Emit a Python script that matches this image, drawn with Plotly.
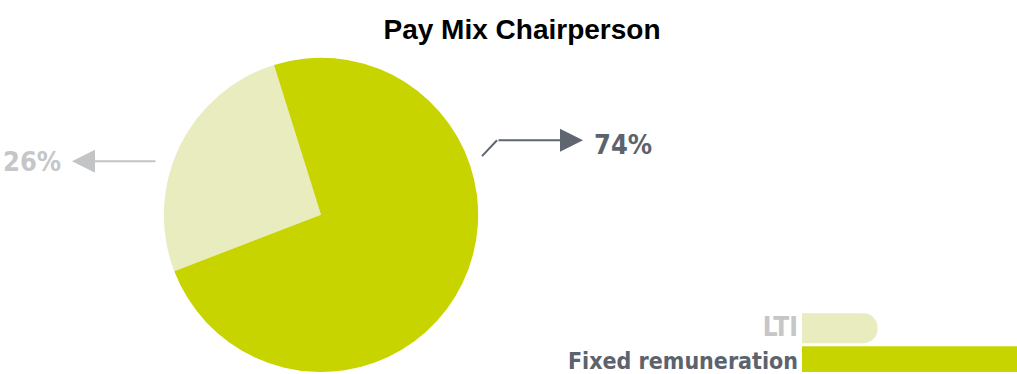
import plotly.graph_objects as go

# ---- data ----
slice_labels = ["LTI", "Fixed remuneration"]
slice_values = [26, 74]
pct_labels = ["26%", "74%"]
legend_categories = ["Fixed remuneration", "LTI"]
legend_values = [74, 26]

W, H = 1017, 374
GREEN = "#c8d400"
LIGHT = "#e8ecbf"
DARK_TXT = "#5c636d"
LIGHT_TXT = "#c5c6c8"
COND = "Liberation Sans Narrow, DejaVu Sans Condensed, Arial Narrow, sans-serif"

def px(x):
    return x / W

def py(y):
    return 1 - y / H

fig = go.Figure()

fig.add_trace(go.Pie(
    labels=slice_labels,
    values=slice_values,
    marker=dict(colors=[LIGHT, GREEN], line=dict(width=0)),
    sort=False,
    direction="clockwise",
    rotation=-111,
    textinfo="none",
    hoverinfo="label+percent",
    showlegend=False,
    domain=dict(x=[px(163), px(479)], y=[0, 316 / H]),
))

# legend-like bars
fig.add_trace(go.Bar(
    y=[legend_categories[0]], x=[legend_values[0]], orientation="h",
    marker=dict(color=GREEN, line=dict(width=0)), width=0.91,
    xaxis="x2", yaxis="y2", showlegend=False, hoverinfo="y",
))
fig.add_trace(go.Bar(
    y=[legend_categories[1]], x=[legend_values[1]], orientation="h",
    marker=dict(color=LIGHT, line=dict(width=0), cornerradius=15), width=0.91,
    xaxis="x2", yaxis="y2", showlegend=False, hoverinfo="y",
))

ticktext = [
    f"<b><span style='color:{DARK_TXT}'>{legend_categories[0]}</span></b>",
    f"<b><span style='color:{LIGHT_TXT};font-size:26px'>{legend_categories[1]}</span></b>",
]

fig.update_layout(
    width=W, height=H,
    margin=dict(l=0, r=0, t=0, b=0),
    paper_bgcolor="white", plot_bgcolor="white",
    barmode="overlay",
    title=dict(
        text="<b>Pay Mix Chairperson</b>",
        x=px(522), xanchor="center",
        y=py(29), yanchor="middle",
        font=dict(family="Liberation Sans, Arial, sans-serif", size=28, color="#000000"),
    ),
    xaxis2=dict(domain=[px(802), 1.0], range=[0, 74], visible=False, fixedrange=True),
    yaxis2=dict(
        domain=[0, 74 / H], range=[-0.333, 1.909], anchor="x2",
        type="category", categoryorder="array", categoryarray=legend_categories,
        tickmode="array", tickvals=legend_categories, ticktext=ticktext,
        showgrid=False, zeroline=False, showline=False, ticks="",
        ticklabelstandoff=3,
        tickfont=dict(family=COND, size=23, color=DARK_TXT),
    ),
)

# percentage labels
fig.add_annotation(
    x=px(63), y=py(162), xref="paper", yref="paper", xanchor="right", yanchor="middle",
    text=f"<b>{pct_labels[0]}</b>", showarrow=False,
    font=dict(family=COND, size=27, color=LIGHT_TXT),
)
fig.add_annotation(
    x=px(592), y=py(145), xref="paper", yref="paper", xanchor="left", yanchor="middle",
    text=f"<b>{pct_labels[1]}</b>", showarrow=False,
    font=dict(family=COND, size=27, color=DARK_TXT),
)

# arrows
fig.add_annotation(
    x=px(72), y=py(162), xref="paper", yref="paper",
    ax=157 - 72, ay=0, text="", showarrow=True,
    arrowhead=2, arrowsize=2.3, arrowwidth=2, arrowcolor="#c3c4c6",
)
fig.add_annotation(
    x=px(583), y=py(141), xref="paper", yref="paper",
    ax=497 - 583, ay=0, text="", showarrow=True,
    arrowhead=2, arrowsize=2.3, arrowwidth=2, arrowcolor="#5f6670",
)
fig.add_shape(
    type="line", xref="paper", yref="paper",
    x0=px(482), y0=py(157), x1=px(497), y1=py(141),
    line=dict(color="#5f6670", width=2),
)

fig.write_html("out.html")
